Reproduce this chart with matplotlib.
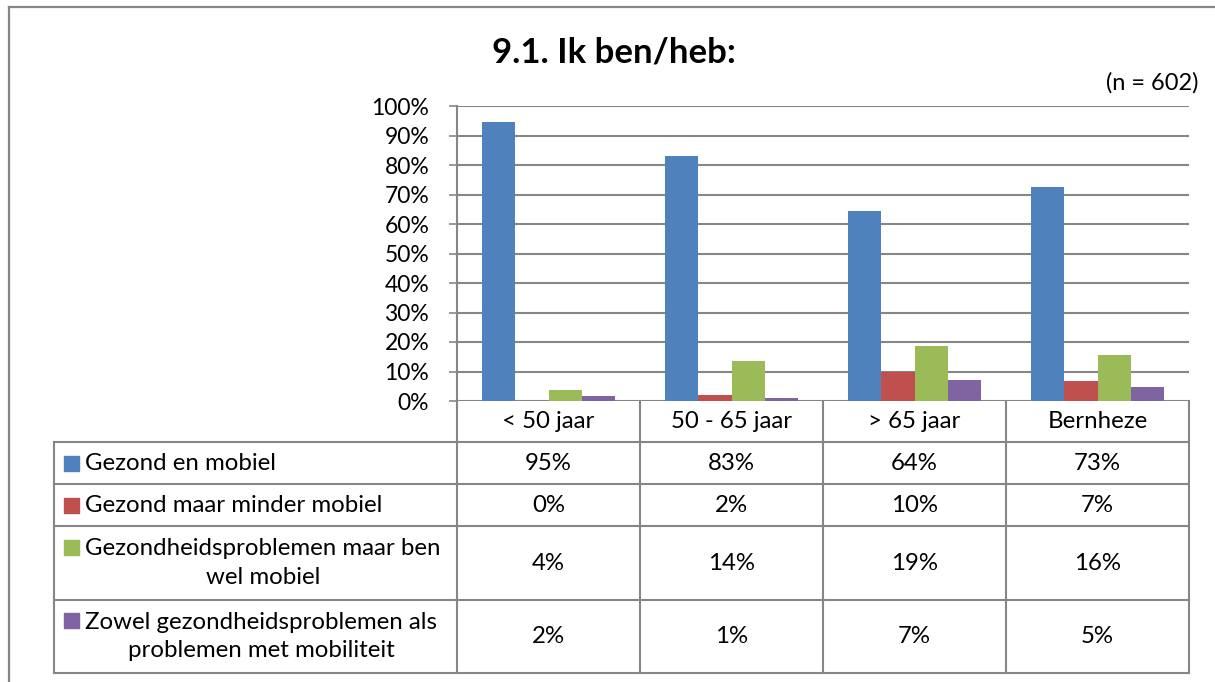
import numpy as np
import matplotlib
matplotlib.use("Agg")
import matplotlib.pyplot as plt
from matplotlib import transforms

plt.rcParams['font.family'] = ['Lato', 'DejaVu Sans']

# ---------- data ----------
categories = ["< 50 jaar", "50 - 65 jaar", "> 65 jaar", "Bernheze"]
series_names = [
    "Gezond en mobiel",
    "Gezond maar minder mobiel",
    "Gezondheidsproblemen maar ben\nwel mobiel",
    "Zowel gezondheidsproblemen als\nproblemen met mobiliteit",
]
gezond_mobiel = [94.6, 82.9, 64.3, 72.6]
gezond_minder_mobiel = [0.0, 2.0, 9.7, 6.8]
problemen_wel_mobiel = [3.6, 13.6, 18.6, 15.6]
problemen_beide = [1.7, 1.0, 7.0, 4.6]
colors = ["#4F81BD", "#C0504D", "#9BBB59", "#8064A2"]
yticks = [0, 10, 20, 30, 40, 50, 60, 70, 80, 90, 100]

series = [gezond_mobiel, gezond_minder_mobiel, problemen_wel_mobiel, problemen_beide]
grey = "#868686"
fs = 17.3

W, H = 1215, 682
fig = plt.figure(figsize=(W / 100, H / 100), dpi=100)

# overlay in pixel coords for frame, table and texts
fr = fig.add_axes([0, 0, 1, 1])
fr.set_xlim(0, W)
fr.set_ylim(H, 0)
fr.axis("off")
fr.patch.set_visible(False)

# ---------- chart ----------
left, right, top, bottom = 457, 1189, 106, 401
ax = fig.add_axes([left / W, 1 - bottom / H, (right - left) / W, (bottom - top) / H])
x = np.arange(len(categories))
w = 1 / 5.5
for i, vals in enumerate(series):
    ax.bar(x + (i - 1.5) * w, vals, width=w, color=colors[i], zorder=3)

ax.set_xlim(-0.5, len(categories) - 0.5)
ax.set_ylim(0, 100)
ax.set_yticks(yticks)
ax.set_yticklabels([f"{v}%" for v in yticks], fontsize=16.5)
ax.set_xticks([])
ax.yaxis.grid(True, color=grey, linewidth=1.5, zorder=0)
ax.tick_params(axis="y", length=6, width=1.2, color=grey, pad=14)
for s in ["top", "right", "bottom"]:
    ax.spines[s].set_visible(False)
ax.spines["left"].set_color(grey)
ax.spines["left"].set_linewidth(1.5)

# title and n
fr.text(614, 52, "9.1. Ik ben/heb:", fontsize=25, fontweight="bold",
        ha="center", va="center")
fr.text(1198, 83, "(n = 602)", fontsize=17, ha="right", va="center")

# outer frame
fr.plot([8.5, 8.5], [H, 7], color=grey, lw=1.6)
fr.plot([8.5, W], [7, 7], color=grey, lw=1.6)

# ---------- data table ----------
blend = transforms.blended_transform_factory(ax.transData, fr.transData)
row_lines = [442, 484, 526, 600, 673]
tab_left = 54
for y in row_lines:
    fr.plot([tab_left, right], [y, y], color=grey, lw=1.5)
fr.plot([tab_left, tab_left], [row_lines[0], row_lines[-1]], color=grey, lw=1.5)
for k in range(len(categories) + 1):
    ax.plot([k - 0.5, k - 0.5], [bottom, row_lines[-1]], color=grey, lw=1.5,
            transform=blend, clip_on=False)

for k, c in enumerate(categories):
    ax.text(k, (bottom + row_lines[0]) / 2, c, fontsize=fs, ha="center", va="center",
            transform=blend)

for i, vals in enumerate(series):
    yc = (row_lines[i] + row_lines[i + 1]) / 2
    for k, v in enumerate(vals):
        ax.text(k, yc, f"{v:.0f}%", fontsize=fs, ha="center", va="center", transform=blend)
    name = series_names[i]
    nlines = name.count("\n") + 1
    fr.text(85, yc, name, fontsize=fs, ha="left", va="center", multialignment="center",
            linespacing=1.42)
    ky = yc - (nlines - 1) * 16
    fr.add_patch(plt.Rectangle((64, ky - 7.5), 15, 15, color=colors[i]))

fig.savefig("out.png", dpi=100)
